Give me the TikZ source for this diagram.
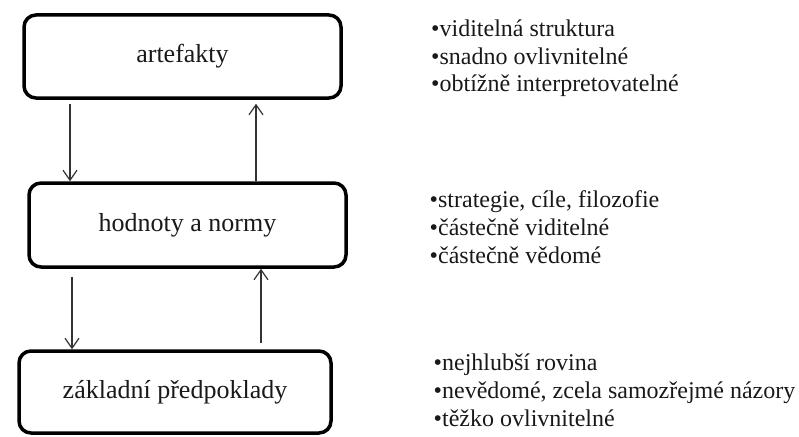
\documentclass[tikz,border=0pt]{standalone}
\usepackage{fontspec}
\setmainfont{Liberation Serif}
\usetikzlibrary{arrows.meta}
\begin{document}
\begin{tikzpicture}[x=1pt,y=-1pt,
  box/.style={draw=black,line width=3.5pt,rounded corners=12pt,inner sep=0pt,
    font=\fontsize{26}{30}\selectfont,text=black!90},
  arr/.style={draw=black!80,line width=1.2pt,-{Straight Barb[length=10pt,width=14pt,line width=1.2pt]}},
  item/.style={anchor=base west,inner sep=0pt,font=\fontsize{24}{28}\selectfont,text=black!90}]
\useasboundingbox (0,0) rectangle (799,436);
% boxes
\node[box,minimum width=317pt,minimum height=83pt] (b1) at (182.5,56.5) {artefakty};
\node[box,minimum width=317pt,minimum height=84pt] (b2) at (187.5,225) {hodnoty a normy};
\node[box,minimum width=312pt,minimum height=82pt] (b3) at (175,392) {základní předpoklady};
% arrow x positions
\coordinate (xa) at (70,0);
\coordinate (xb) at (256,0);
\coordinate (xc) at (72,0);
\coordinate (xd) at (261,0);
\draw[arr,shorten <=4pt] (b1.south -| xa) -- (b2.north -| xa);
\draw[arr,shorten >=4pt] (b2.north -| xb) -- (b1.south -| xb);
\draw[arr,shorten <=8pt] (b2.south -| xc) -- (b3.north -| xc);
\draw[arr,shorten <=6pt] (b3.north -| xd) -- (b2.south -| xd);
% right texts
\node[item] (t11) at (431,37) {•viditelná struktura};
\node[item] (t12) at (431,64) {•snadno ovlivnitelné};
\node[item] (t13) at (431,91) {•obtížně interpretovatelné};
\node[item] (t21) at (429.5,207) {•strategie, cíle, filozofie};
\node[item] (t22) at (429.5,235) {•částečně viditelné};
\node[item] (t23) at (429.5,263) {•částečně vědomé};
\node[item] (t31) at (433.5,370) {•nejhlubší rovina};
\node[item] (t32) at (433.5,398) {•nevědomé, zcela samozřejmé názory};
\node[item] (t33) at (433.5,426) {•těžko ovlivnitelné};
\end{tikzpicture}
\end{document}
